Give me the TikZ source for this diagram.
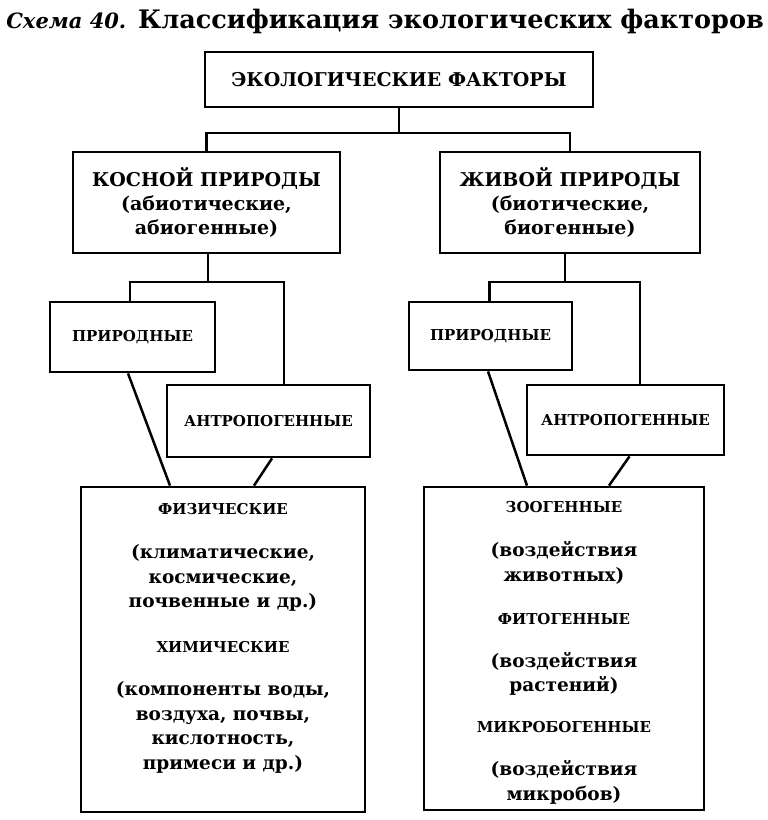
\documentclass[tikz,border=0pt]{standalone}
\usepackage{fontspec}
\setmainfont{DejaVu Serif}
\usetikzlibrary{positioning}

\begin{document}
\begin{tikzpicture}[x=1pt,y=-1pt] % one unit = one pixel of the scheme, y grows downwards
\tikzset{box/.style={draw, line width=2.8pt, inner sep=0pt}} % frames of the scheme
\tikzset{link/.style={line width=2.5pt}} % connecting lines
\tikzset{big/.style={font=\bfseries\fontsize{19}{24}\selectfont, align=center}} % main level text
\tikzset{small/.style={font=\bfseries\fontsize{15}{18}\selectfont, align=center}} % small labels
\tikzset{list/.style={font=\bfseries\fontsize{18.5}{24.5}\selectfont, align=center, anchor=north}} % text in the lowest frames
\useasboundingbox (0,0) rectangle (768,820);

% title
\node[font=\bfseries\fontsize{25.5}{30}\selectfont] (title) at (385,21) {{\itshape\fontsize{21}{30}\selectfont Схема 40.} Классификация экологических факторов};

% levels
\node[box, minimum width=388pt, minimum height=55pt, big] (eco) at (399,79.5) {ЭКОЛОГИЧЕСКИЕ ФАКТОРЫ};
\node[box, minimum width=267pt, minimum height=101pt, big] (abio) at (206.5,202.5) {КОСНОЙ ПРИРОДЫ\\(абиотические,\\абиогенные)};
\node[box, minimum width=260pt, minimum height=101pt, big] (bio) at (570,202.5) {ЖИВОЙ ПРИРОДЫ\\(биотические,\\биогенные)};
\node[box, minimum width=165pt, minimum height=70pt, small] (natA) at (132.5,337) {ПРИРОДНЫЕ};
\node[box, minimum width=203pt, minimum height=72pt, small] (antA) at (268.5,421) {АНТРОПОГЕННЫЕ};
\node[box, minimum width=163pt, minimum height=68pt, small] (natB) at (490.5,336) {ПРИРОДНЫЕ};
\node[box, minimum width=197pt, minimum height=70pt, small] (antB) at (625.5,420) {АНТРОПОГЕННЫЕ};
\node[box, minimum width=284pt, minimum height=325pt] (phys) at (223,649.5) {};
\node[box, minimum width=280pt, minimum height=323pt] (zoo) at (564,648.5) {};

% texts of the lowest frames
\node[list] (physTxt) at ([yshift=-14pt]phys.north) {{\fontsize{15}{18}\selectfont ФИЗИЧЕСКИЕ}\\[20pt]
  (климатические,\\космические,\\почвенные и др.)\\[20pt]
  {\fontsize{15}{18}\selectfont ХИМИЧЕСКИЕ}\\[19pt]
  (компоненты воды,\\воздуха, почвы,\\кислотность,\\примеси и др.)};
\node[list] (zooTxt) at ([yshift=-12pt]zoo.north) {{\fontsize{15}{18}\selectfont ЗООГЕННЫЕ}\\[20pt]
  (воздействия\\животных)\\[19pt]
  {\fontsize{15}{18}\selectfont ФИТОГЕННЫЕ}\\[18pt]
  (воздействия\\растений)\\[16pt]
  {\fontsize{15}{18}\selectfont МИКРОБОГЕННЫЕ}\\[19pt]
  (воздействия\\микробов)};

% connectors
\coordinate (top) at (399,133);
\draw[link] (eco.south) -- (top);
\draw[link] (abio.north) |- (top) -| (bio.north);
\coordinate (forkA) at (208,282);
\coordinate (forkB) at (565,282);
\draw[link] (abio.south -| forkA) -- (forkA);
\draw[link] ([xshift=-2.5pt]natA.north) |- (forkA) -| ([xshift=15.5pt]antA.north);
\draw[link] (bio.south -| forkB) -- (forkB);
\draw[link] ([xshift=-1pt]natB.north) |- (forkB) -| ([xshift=14.5pt]antB.north);
\draw[link] ([xshift=-4.5pt]natA.south) -- ([xshift=-53pt]phys.north);
\draw[link] ([xshift=3.5pt]antA.south) -- ([xshift=31pt]phys.north);
\draw[link] ([xshift=-2.5pt]natB.south) -- ([xshift=-37pt]zoo.north);
\draw[link] ([xshift=4pt]antB.south) -- ([xshift=45pt]zoo.north);
\end{tikzpicture}
\end{document}
